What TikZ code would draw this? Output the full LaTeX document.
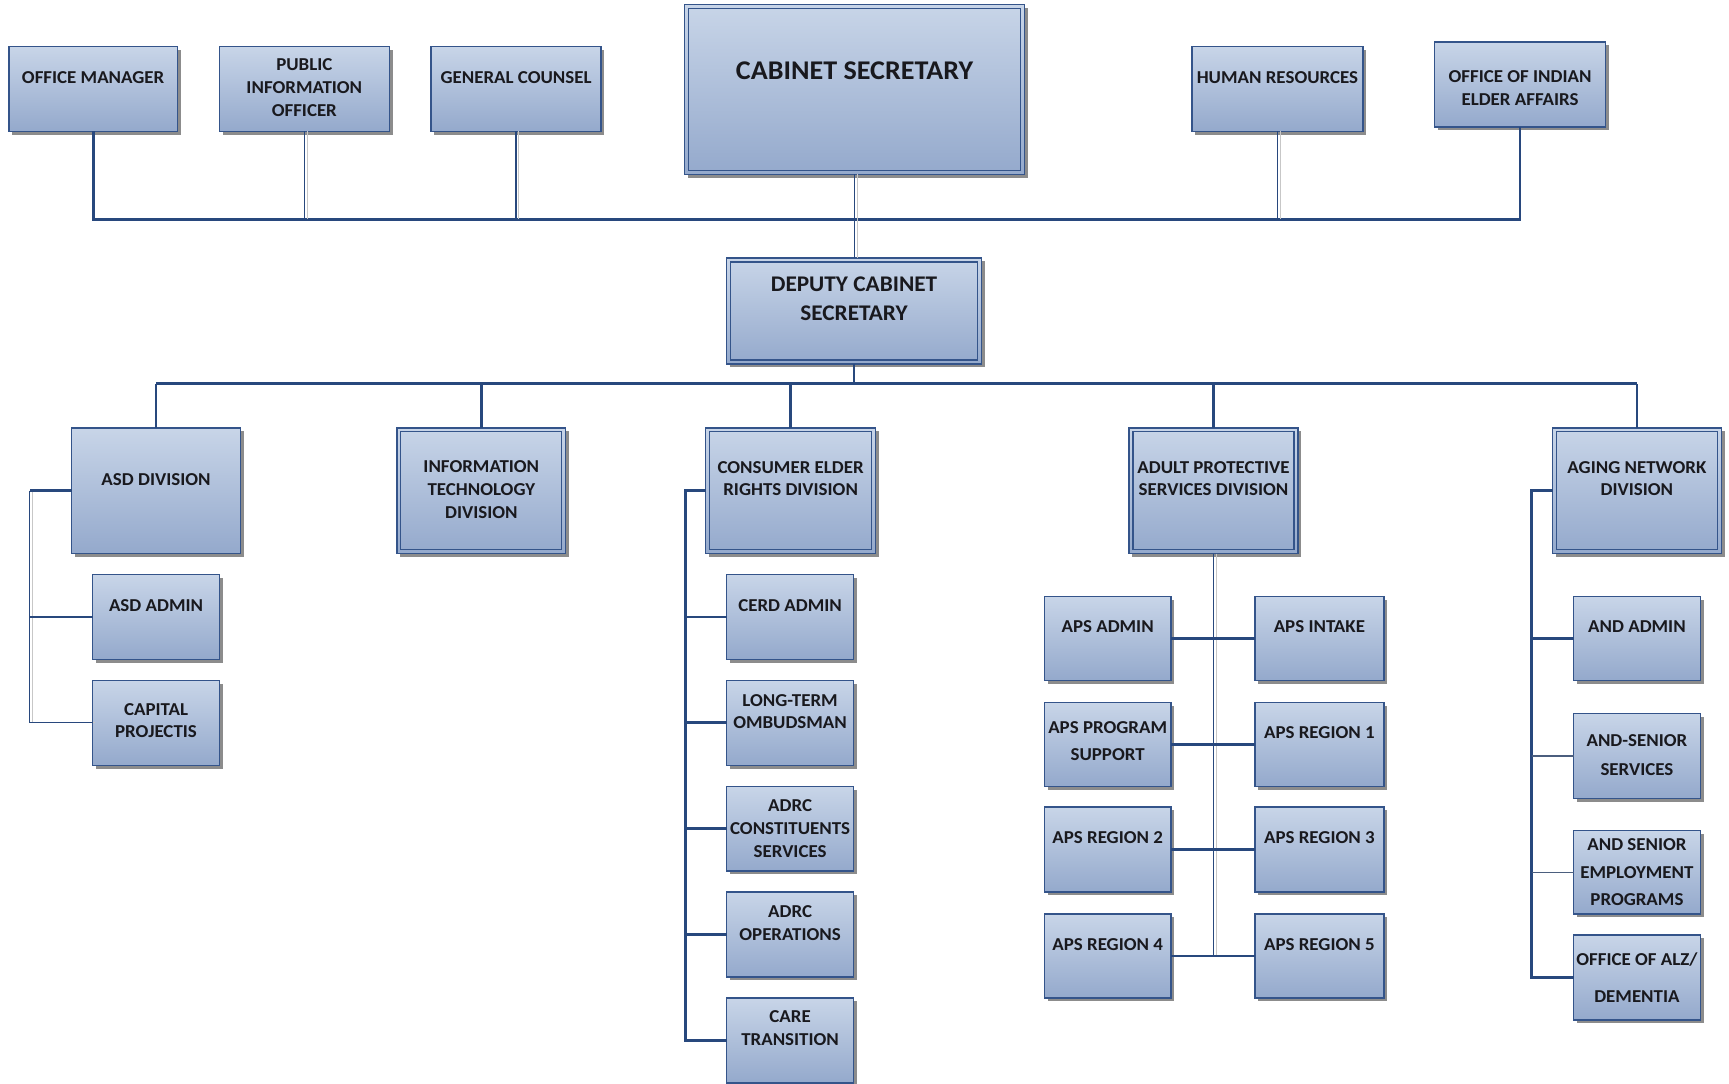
\documentclass[tikz,border=0pt]{standalone}
\usepackage{fontspec}
\setmainfont[FakeStretch=1.04]{Carlito}
\usetikzlibrary{shadows}
\definecolor{ftop}{RGB}{200,213,232}
\definecolor{fbot}{RGB}{148,169,204}
\definecolor{bord}{RGB}{52,84,138}
\definecolor{lin}{RGB}{40,72,125}
\definecolor{txtc}{RGB}{25,25,30}
\tikzset{
  box/.style={draw=bord, line width=1.3pt, top color=ftop, bottom color=fbot,
    inner sep=0pt, outer sep=0pt,
    drop shadow={shadow xshift=3pt, shadow yshift=-3pt, fill=black!45, opacity=1}},
  innerbox/.style={draw=bord, line width=1.2pt},
  txt/.style={align=center, inner sep=0pt, text=txtc,
    font=\bfseries\fontsize{16.5}{20.5}\selectfont},
  conn/.style={draw=lin, line width=2.6pt},
  thinc/.style={draw=lin, line width=1.2pt,
    preaction={draw=black!22, line width=1pt, transform canvas={xshift=2.5pt}}},
  thinh/.style={draw=lin!60!gray, line width=1.1pt},
}
\newcommand\orgbox[8][]{%
  \node[box, minimum width={(#5-#3)*1pt}, minimum height={(#6-#4)*1pt}]
    (#2) at ({(#3+#5)/2},{(#4+#6)/2}) {};
  \node[txt,#1] (#2-t) at ({(#3+#5)/2},#8) {#7};
}
\newcommand\orgdbox[8][]{%
  \orgbox[#1]{#2}{#3}{#4}{#5}{#6}{#7}{#8}%
  \draw[innerbox] ([xshift=3.5pt,yshift=-3.5pt]#2.north west) rectangle ([xshift=-3.5pt,yshift=3.5pt]#2.south east);
}
\begin{document}
\begin{tikzpicture}[x=1pt,y=-1pt]
\useasboundingbox (0,0) rectangle (1568,983);
\fill[white] (0,0) rectangle (1568,983);
% top row
\orgbox{om}{8}{42}{161}{119}{OFFICE MANAGER}{70}
\orgbox{pio}{199}{42}{353}{119}{PUBLIC\\INFORMATION\\OFFICER}{79.5}
\orgbox{gc}{391}{42}{545}{119}{GENERAL COUNSEL}{70}
\orgdbox[font=\bfseries\fontsize{24.5}{28}\selectfont]{cs}{621}{4}{929}{158}{CABINET SECRETARY}{64}
\orgbox{hr}{1081}{42}{1236}{119}{HUMAN RESOURCES}{70}
\orgbox{oiea}{1301}{38}{1456}{115}{OFFICE OF INDIAN\\ELDER AFFAIRS}{80}
% deputy
\orgdbox[font=\bfseries\fontsize{20.3}{26}\selectfont]{dep}{659}{234}{890}{330}{DEPUTY CABINET\\SECRETARY}{271}
% divisions
\orgbox{asd}{65}{388}{218}{502}{ASD DIVISION}{435}
\orgdbox{it}{360}{388}{513}{502}{INFORMATION\\TECHNOLOGY\\DIVISION}{444}
\orgdbox{cerd}{640}{388}{794}{502}{CONSUMER ELDER\\RIGHTS DIVISION}{434}
\orgdbox{aps}{1024}{388}{1177}{502}{ADULT PROTECTIVE\\SERVICES DIVISION}{434}
\orgdbox{agn}{1408}{388}{1561}{502}{AGING NETWORK\\DIVISION}{434}
% ASD children
\orgbox{asda}{84}{521}{199}{598}{ASD ADMIN}{549}
\orgbox{cap}{84}{617}{199}{694}{CAPITAL\\PROJECTIS}{653.5}
% CERD children
\orgbox{cerda}{659}{521}{774}{598}{CERD ADMIN}{549}
\orgbox{ltc}{659}{617}{774}{694}{LONG-TERM\\OMBUDSMAN}{645.5}
\orgbox{adrcc}{659}{713}{774}{790}{ADRC\\CONSTITUENTS\\SERVICES}{751.5}
\orgbox{adrco}{659}{809}{774}{886}{ADRC\\OPERATIONS}{837}
\orgbox{care}{659}{905}{774}{982}{CARE\\TRANSITION}{932.5}
% APS children
\orgbox{apsa}{947}{541}{1062}{617}{APS ADMIN}{568}
\orgbox{apsi}{1138}{541}{1255}{617}{APS INTAKE}{568}
\orgbox[font=\bfseries\fontsize{16.5}{24}\selectfont]{apsp}{947}{637}{1062}{713}{APS PROGRAM\\SUPPORT}{672}
\orgbox{aps1}{1138}{637}{1255}{713}{APS REGION 1}{664}
\orgbox{aps2}{947}{732}{1062}{809}{APS REGION 2}{760}
\orgbox{aps3}{1138}{732}{1255}{809}{APS REGION 3}{760}
\orgbox{aps4}{947}{829}{1062}{905}{APS REGION 4}{857}
\orgbox{aps5}{1138}{829}{1255}{905}{APS REGION 5}{857}
% AND children
\orgbox{anda}{1427}{541}{1542}{617}{AND ADMIN}{568}
\orgbox[font=\bfseries\fontsize{16.5}{26}\selectfont]{ands}{1427}{647}{1542}{724}{AND-SENIOR\\SERVICES}{685}
\orgbox[font=\bfseries\fontsize{16.5}{25}\selectfont]{ande}{1427}{753}{1542}{829}{AND SENIOR\\EMPLOYMENT\\PROGRAMS}{791}
\orgbox[font=\bfseries\fontsize{16.5}{33}\selectfont]{alz}{1427}{848}{1542}{925}{OFFICE OF ALZ/\\DEMENTIA}{886.5}
% connectors: top
\coordinate (bus1) at (0,199);
\coordinate (bus2) at (0,348);
\draw[conn] (om.south) -- (om.south |- bus1) -- (oiea.south |- bus1) -- (oiea.south);
\draw[thinc] (pio.south) -- (pio.south |- bus1);
\draw[thinc] (gc.south) -- (gc.south |- bus1);
\draw[thinc] (hr.south) -- (hr.south |- bus1);
\draw[thinc] (cs.south) -- (cs.south |- dep.north);
\draw[conn] (dep.south) -- (dep.south |- bus2);
\draw[conn] (asd.north |- bus2) -- (agn.north |- bus2);
\foreach \n in {asd,it,cerd,aps,agn} \draw[conn] (\n.north) -- (\n.north |- bus2);
% ASD
\coordinate (asdx) at (27,0);
\draw[thinc] (asd.west -| asdx) -- (cap.west -| asdx) -- (cap.west);
\draw[conn] (asd.west) -- (asd.west -| asdx);
\draw[conn] (asda.west -| asdx) -- (asda.west);
% CERD
\coordinate (cerdx) at (622,0);
\draw[conn] (cerd.west) -- (cerd.west -| cerdx) -- (care.west -| cerdx) -- (care.west);
\foreach \n in {cerda,ltc,adrcc,adrco} \draw[conn] (\n.west -| cerdx) -- (\n.west);
% APS
\draw[thinc] (aps.south) -- (aps.south |- aps4.east);
\foreach \a/\b in {apsa/apsi,apsp/aps1,aps2/aps3,aps4/aps5} \draw[conn] (\a.east) -- (\b.west);
% AND
\coordinate (agnx) at (1389,0);
\draw[conn] (agn.west) -- (agn.west -| agnx) -- (alz.west -| agnx) -- (alz.west);
\draw[conn] (anda.west -| agnx) -- (anda.west);
\draw[thinh] (ands.west -| agnx) -- (ands.west);
\draw[thinh] (ande.west -| agnx) -- (ande.west);
\end{tikzpicture}
\end{document}
